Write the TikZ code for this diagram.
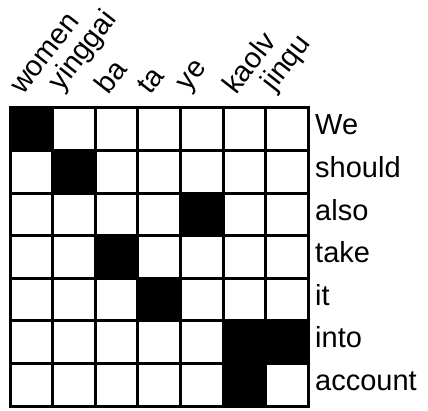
\documentclass[tikz,border=0pt]{standalone}
\usepackage{fontspec}
\setmainfont{Liberation Sans}
\begin{document}
\begin{tikzpicture}[x=1pt,y=1pt,
  cell/.style={draw=black,line width=3pt,minimum size=42.6pt,inner sep=0pt,fill=white},
  on/.style={cell,fill=black},
  toplabel/.style={anchor=south west,rotate=52,inner sep=0pt,font=\fontsize{29}{35}\selectfont},
  rowlabel/.style={anchor=base west,inner sep=0pt,font=\fontsize{29}{35}\selectfont}]
\useasboundingbox (0,0) rectangle (428,-411);
\def\cs{42.6}
\foreach \r in {1,...,7}{
  \foreach \c in {1,...,7}{
    \node[cell] (c-\r-\c) at ({10+\cs*(\c-0.5)},{-108-\cs*(\r-0.5)}) {};
  }
}
\foreach \r/\c in {1/1,2/2,3/5,4/3,5/4,6/6,6/7,7/6}{
  \node[on] (b-\r-\c) at ({10+\cs*(\c-0.5)},{-108-\cs*(\r-0.5)}) {};
}
\foreach \w [count=\c] in {women,yinggai,ba,ta,ye,kaolv,jinqu}{
  \node[toplabel] (t-\c) at ({10+\cs*(\c-0.5)-8},-96) {\w};
}
\foreach \w [count=\r] in {We,should,also,take,it,into,account}{
  \node[rowlabel] (r-\r) at (315,{-108-\cs*(\r-1)-27}) {\w};
}
\end{tikzpicture}
\end{document}
